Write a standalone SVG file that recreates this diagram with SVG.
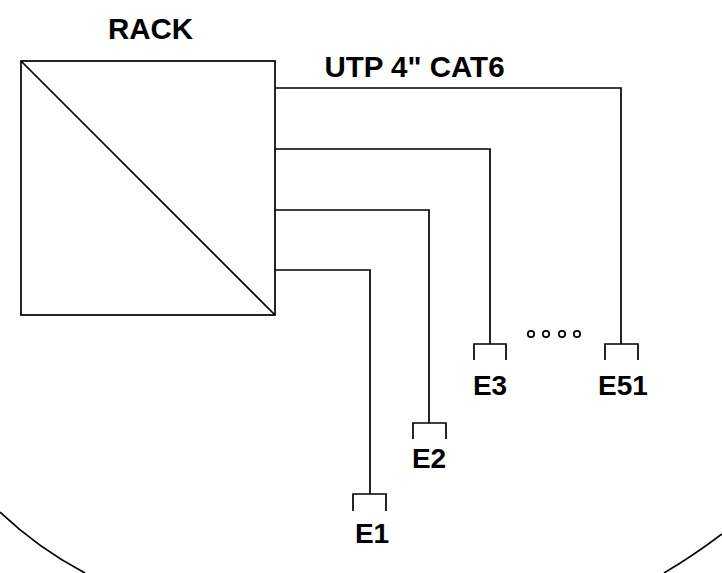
<svg xmlns="http://www.w3.org/2000/svg" width="722" height="573" viewBox="0 0 722 573">
<style>
.l{fill:none;stroke:#000;stroke-width:1.7}
.t{font-family:"Liberation Sans",Arial,sans-serif;font-weight:bold;font-size:28px;fill:#000;text-anchor:middle}
.b{font-size:29.5px}
.c{fill:none;stroke:#000;stroke-width:1.7}
</style>
<rect width="722" height="573" fill="#fff"/>
<g id="rack"><rect class="l" x="21" y="61" width="254" height="254"/><path class="l" d="M21 61L275 315"/><text class="t b" x="150.500" y="39">RACK</text></g>
<g id="connectors">
<path class="l" d="M275 88H621V344"/>
<path class="l" d="M275 149H490V344"/>
<path class="l" d="M275 210H429V423"/>
<path class="l" d="M275 270H370V494"/>
</g>
<text id="cable-label" class="t b" x="414.500" y="77">UTP 4" CAT6</text>
<g id="E1"><path class="l" d="M353 511V494H386V511"/><text class="t" x="372" y="543">E1</text></g>
<g id="E2"><path class="l" d="M413 439V423H446V439"/><text class="t" x="429" y="468">E2</text></g>
<g id="E3"><path class="l" d="M474 360V344H506V360"/><text class="t" x="490" y="395">E3</text></g>
<g id="E51"><path class="l" d="M605 360V344H638V360"/><text class="t" x="623" y="395">E51</text></g>
<g id="dots"><circle class="c" cx="531" cy="334" r="3.2"/><circle class="c" cx="546" cy="334" r="3.2"/><circle class="c" cx="562" cy="334" r="3.2"/><circle class="c" cx="577" cy="334" r="3.2"/></g>
<g id="boundary"><path class="l" d="M0 512Q38 548 85 573"/><path class="l" d="M722 534Q693 556 664 573"/></g>
</svg>
